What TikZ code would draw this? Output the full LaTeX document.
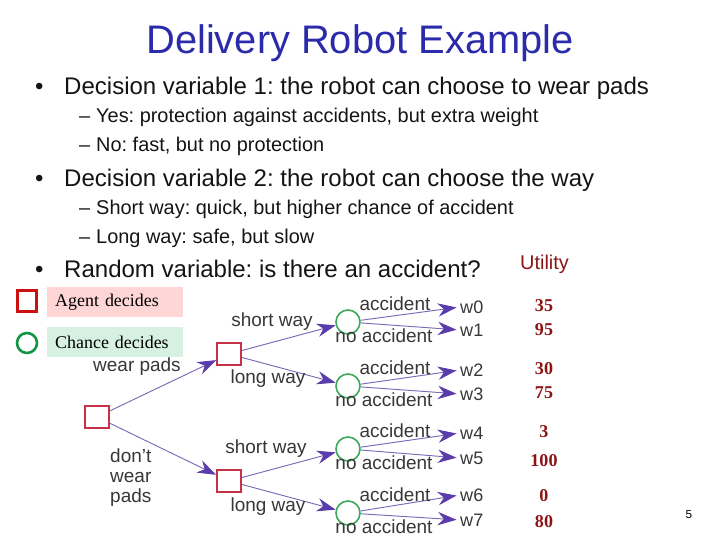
\documentclass[tikz,border=0pt]{standalone}
\usepackage{fontspec}
\setmainfont{Liberation Sans}
\newfontfamily\timesfont{Liberation Serif}
\usepackage{tikz}
\usetikzlibrary{arrows.meta}
\frenchspacing

\definecolor{titleblue}{RGB}{42,42,170}
\definecolor{bodyblack}{RGB}{20,20,20}
\definecolor{treegray}{RGB}{55,55,55}
\definecolor{agentred}{RGB}{200,50,70}
\definecolor{keyred}{RGB}{204,17,17}
\definecolor{chancegreen}{RGB}{60,170,90}
\definecolor{keygreen}{RGB}{17,150,70}
\definecolor{branchpurple}{RGB}{125,105,185}
\definecolor{tippurple}{RGB}{90,60,170}
\definecolor{utilred}{RGB}{140,20,20}
\definecolor{agentpink}{RGB}{255,214,214}
\definecolor{chancemint}{RGB}{214,240,226}

\begin{document}
\begin{tikzpicture}[x=0.03cm, y=-0.03cm,
    every node/.style={inner sep=0pt},
    bodytxt/.style={anchor=base west, text=bodyblack},
    bigtxt/.style={bodytxt, font=\fontsize{20.5}{24}\selectfont},
    smalltxt/.style={bodytxt, font=\fontsize{17}{20}\selectfont},
    treetxt/.style={font=\fontsize{16.2}{19}\selectfont, text=treegray},
    agent/.style={draw=agentred, line width=1.5pt, fill=white, minimum width=0.72cm, minimum height=0.68cm},
    chance/.style={circle, draw=chancegreen, line width=1.4pt, fill=white, minimum size=0.72cm},
    util/.style={font=\fontsize{15.4}{17}\timesfont\bfseries, text=utilred, anchor=base},
    branch/.style={draw=branchpurple, line width=0.8pt, -{Stealth[length=0.56cm, width=0.4cm, inset=0.18cm, color=tippurple]}},
    keybox/.style={anchor=west, inner xsep=0.24cm, text width=3.6cm, align=left, minimum height=0.9cm, font=\fontsize{15.3}{17}\timesfont}
]
\useasboundingbox (0,0) rectangle (720,540);

% title and bullets
\node[font=\fontsize{34}{40}\selectfont, text=titleblue, anchor=base] (title) at (360,54) {Delivery Robot Example};

\node[bigtxt] (dot1) at (35,95) {•};
\node[bigtxt] (dv1) at (64,95) {Decision variable 1: the robot can choose to wear pads};
\node[smalltxt] (dash1) at (79,123) {–};
\node[smalltxt] (yes) at (96,123) {Yes: protection against accidents, but extra weight};
\node[smalltxt] (dash2) at (79,152) {–};
\node[smalltxt] (no) at (96,152) {No: fast, but no protection};

\node[bigtxt] (dot2) at (35,187) {•};
\node[bigtxt] (dv2) at (64,187) {Decision variable 2: the robot can choose the way};
\node[smalltxt] (dash3) at (79,215) {–};
\node[smalltxt] (short) at (96,215) {Short way: quick, but higher chance of accident};
\node[smalltxt] (dash4) at (79,244) {–};
\node[smalltxt] (long) at (96,244) {Long way: safe, but slow};

\node[bigtxt] (dot3) at (35,278) {•};
\node[bigtxt] (rv) at (64,278) {Random variable: is there an accident?};

% legend
\node[agent, draw=keyred, line width=2.2pt, minimum width=0.58cm, minimum height=0.62cm] (agentsym) at (27,301) {};
\node[keybox, fill=agentpink] (agentkey) at (47,302) {Agent decides};
\node[chance, draw=keygreen, line width=2.2pt, minimum size=0.6cm] (chancesym) at (27,343) {};
\node[keybox, fill=chancemint] (chancekey) at (47,342) {Chance decides};

% decision tree
\node[agent] (root) at (97,417) {};
\node[agent] (wp) at (229,354) {};
\node[agent] (nwp) at (229,481) {};
\foreach \i/\y in {0/322, 1/386, 2/449, 3/513}
    \node[chance] (c\i) at (348,\y) {};

\draw[branch] (root) -- (wp);
\draw[branch] (root) -- (nwp);
\draw[branch] (wp) -- (c0);
\draw[branch] (wp) -- (c1);
\draw[branch] (nwp) -- (c2);
\draw[branch] (nwp) -- (c3);

\node[treetxt, anchor=mid east] (wplbl) at (181,368) {wear pads};
\node[treetxt, anchor=west, align=left, font=\fontsize{16.2}{17}\selectfont] (nwplbl) at (110,478) {don’t\\wear\\pads};
\node[treetxt, anchor=mid] (sw1) at (272,323) {short way};
\node[treetxt, anchor=mid] (lw1) at (268,380) {long way};
\node[treetxt, anchor=mid] (sw2) at (266,450) {short way};
\node[treetxt, anchor=mid] (lw2) at (268,508) {long way};

% outcomes
\foreach \c/\a/\b/\ya/\yb in {0/0/1/307/330, 1/2/3/370/394, 2/4/5/433/458, 3/6/7/495/520} {
    \node[treetxt, anchor=west, font=\fontsize{15.4}{17}\selectfont] (w\a) at (460,\ya) {w\a};
    \node[treetxt, anchor=west, font=\fontsize{15.4}{17}\selectfont] (w\b) at (460,\yb) {w\b};
    \draw[branch, shorten >=3pt] (c\c) -- (w\a.west);
    \draw[branch, shorten >=3pt] (c\c) -- (w\b.west);
}
\foreach \c/\y in {0/322, 1/386, 2/449, 3/513} {
    \node[treetxt, anchor=mid] (acc\c) at (395,\y-15) {accident};
    \node[treetxt, anchor=mid] (noacc\c) at (384,\y+17) {no accident};
}

% utilities
\node[anchor=base west, font=\fontsize{17}{20}\selectfont, text=utilred] (utility) at (520,270) {Utility};
\foreach \u/\y in {35/312, 95/336, 30/375, 75/398, 3/438, 100/466, 0/501, 80/527}
    \node[util] (u\u) at (544,\y) {\u};

\node[anchor=base, font=\fontsize{10}{12}\selectfont] (page) at (689,518) {5};
\end{tikzpicture}
\end{document}
